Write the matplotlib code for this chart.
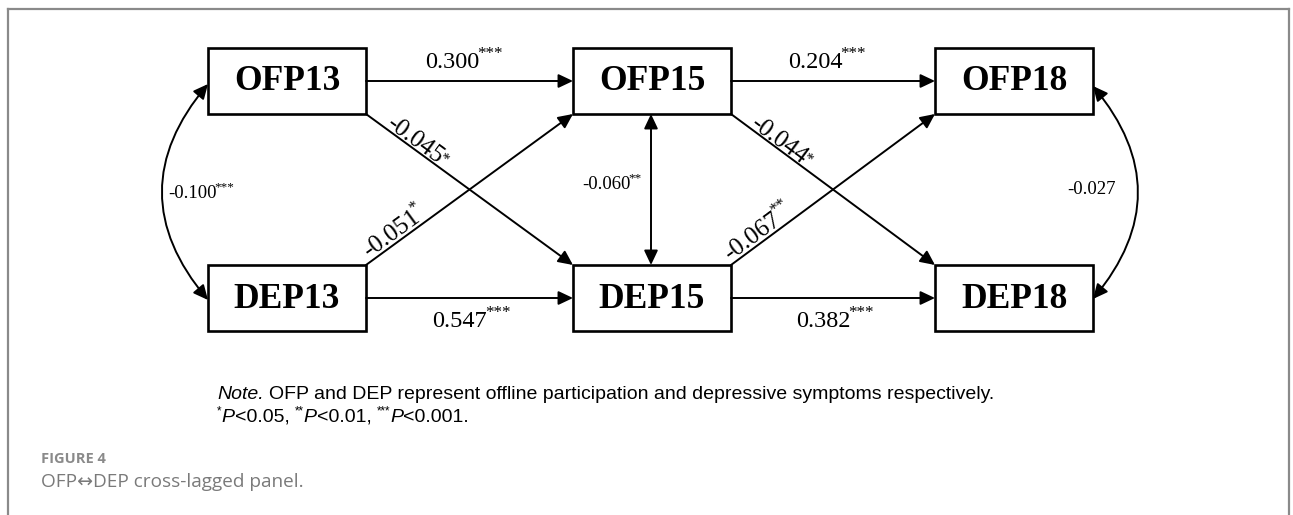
import matplotlib
matplotlib.use("Agg")
import matplotlib.pyplot as plt
from matplotlib.patches import Rectangle, FancyArrowPatch, ArrowStyle
from matplotlib.lines import Line2D
import numpy as np

# ---------------- data ----------------
ofp_nodes = ["OFP13", "OFP15", "OFP18"]
dep_nodes = ["DEP13", "DEP15", "DEP18"]
ofp_auto = ["0.300", "0.204"]
ofp_auto_sig = ["***", "***"]
dep_auto = ["0.547", "0.382"]
dep_auto_sig = ["***", "***"]
ofp_to_dep = ["-0.045", "-0.044"]
ofp_to_dep_sig = ["*", "*"]
dep_to_ofp = ["-0.051", "-0.067"]
dep_to_ofp_sig = ["*", "**"]
within_cov = ["-0.100", "-0.060", "-0.027"]
within_cov_sig = ["***", "**", ""]
note_line1 = ["Note.", "OFP and DEP represent offline participation and depressive symptoms respectively."]
note_line2 = [("*", "s"), ("P", "i"), ("<0.05, ", "n"), ("**", "s"), ("P", "i"), ("<0.01, ", "n"),
              ("***", "s"), ("P", "i"), ("<0.001.", "n")]
fig_label = "FIGURE 4"
fig_caption = "OFP\u2194DEP cross-lagged panel."

# ---------------- setup ----------------
W, H = 1293, 515
fig = plt.figure(figsize=(W / 100, H / 100), dpi=100)
ax = fig.add_axes([0, 0, 1, 1])
ax.set_xlim(0, W)
ax.set_ylim(H, 0)
ax.axis("off")
fig.canvas.draw()
renderer = fig.canvas.get_renderer()

SERIF = "Liberation Serif"
SANS = "Liberation Sans"
PX = 100 / 72  # pixels per point

# frame (open at bottom)
fc = "#8a8a8a"
ax.add_line(Line2D([7.5, 7.5], [H + 5, 9], color=fc, lw=1.6))
ax.add_line(Line2D([7.5, 1289], [9, 9], color=fc, lw=1.6))
ax.add_line(Line2D([1289, 1289], [9, H + 5], color=fc, lw=1.6))

# layout
col_x = [208, 573, 935]
row_y = [48, 265]
bw, bh = 158, 66
box_lw = 1.9
arr_lw = 1.4


def text_width(s, fs, family=SERIF):
    if not s:
        return 0.0
    t = ax.text(0, 0, s, fontsize=fs, family=family)
    w = t.get_window_extent(renderer).width
    t.remove()
    return w


def label(cx, cy, main, sup, fs, rot=0.0, sup_scale=0.7, sup_raise=0.42, family=SERIF, gap=-2.0):
    """Main text with a superscript, centred on (cx, cy), rotated by rot degrees."""
    wm = text_width(main, fs, family) + (gap if sup else 0.0)
    ws = text_width(sup, fs * sup_scale, family)
    a = np.radians(rot)
    u = np.array([np.cos(a), -np.sin(a)])
    v = np.array([-np.sin(a), -np.cos(a)])
    cap = 0.66 * fs * PX
    c = np.array([cx, cy], float)
    base = c - u * (wm + ws) / 2 - v * cap / 2
    ax.text(base[0], base[1], main, fontsize=fs, family=family, ha="left", va="baseline",
            rotation=rot, rotation_mode="anchor")
    if sup:
        sp = base + u * wm + v * sup_raise * fs * PX
        ax.text(sp[0], sp[1], sup, fontsize=fs * sup_scale, family=family, ha="left",
                va="baseline", rotation=rot, rotation_mode="anchor")


def box(col, row, name):
    x, y = col_x[col], row_y[row]
    ax.add_patch(Rectangle((x, y), bw, bh, fill=False, ec="black", lw=box_lw))
    ax.text(x + bw / 2, y + bh / 2 + 1, name, family=SERIF, weight="bold",
            fontsize=25.5, ha="center", va="center")


for i, n in enumerate(ofp_nodes):
    box(i, 0, n)
for i, n in enumerate(dep_nodes):
    box(i, 1, n)

head = ArrowStyle("-|>", head_length=0.55, head_width=0.26)
dhead = ArrowStyle("<|-|>", head_length=0.55, head_width=0.26)


def arrow(p0, p1, style=head, conn="arc3,rad=0"):
    ax.add_patch(FancyArrowPatch(p0, p1, arrowstyle=style, mutation_scale=16,
                                 lw=arr_lw, color="black", shrinkA=0, shrinkB=0,
                                 connectionstyle=conn))


def mid_y(row):
    return row_y[row] + bh / 2


lab_fs = 17.5
diag_fs = 18
cov_fs = 13.5

# autoregressive paths
for i in range(2):
    x0 = col_x[i] + bw
    x1 = col_x[i + 1]
    arrow((x0, mid_y(0)), (x1, mid_y(0)))
    arrow((x0, mid_y(1)), (x1, mid_y(1)))
    xm = (x0 + x1) / 2
    label(xm - 6, mid_y(0) - 21, ofp_auto[i], ofp_auto_sig[i], lab_fs)
    label(xm + 2, mid_y(1) + 21, dep_auto[i], dep_auto_sig[i], lab_fs)


# cross-lagged paths
def diag_label(p0, p1, main, sup, t, off, sup_raise, sup_scale):
    p0 = np.array(p0, float)
    p1 = np.array(p1, float)
    d = (p1 - p0) / np.hypot(*(p1 - p0))
    n = np.array([-d[1], d[0]])
    if n[1] > 0:
        n = -n
    c = p0 + t * (p1 - p0) + off * n
    ang = np.degrees(np.arctan2(-(p1 - p0)[1], (p1 - p0)[0]))
    label(c[0], c[1], main, sup, diag_fs, rot=ang, sup_scale=sup_scale, sup_raise=sup_raise)


top_b = row_y[0] + bh
bot_t = row_y[1]
for i in range(2):
    x0 = col_x[i] + bw
    x1 = col_x[i + 1]
    arrow((x0, top_b), (x1, bot_t))
    arrow((x0, bot_t), (x1, top_b))
    diag_label((x0, top_b), (x1, bot_t), ofp_to_dep[i], ofp_to_dep_sig[i], 0.225, 10, 0.12, 0.65)
    diag_label((x0, bot_t), (x1, top_b), dep_to_ofp[i], dep_to_ofp_sig[i], 0.165, 12, 0.42, 0.68)

# within-time covariances
xl = col_x[0]
arrow((xl, mid_y(0) + 3), (xl, mid_y(1) + 2), style=dhead, conn="arc3,rad=0.42")
label(201, 192, within_cov[0], within_cov_sig[0], cov_fs)

xc = col_x[1] + bw / 2 - 1
arrow((xc, top_b), (xc, bot_t), style=dhead)
label(612, 183, within_cov[1], within_cov_sig[1], cov_fs)

xr = col_x[2] + bw
arrow((xr, mid_y(0) + 5), (xr, mid_y(1) + 1), style=dhead, conn="arc3,rad=-0.415")
label(1092, 188, within_cov[2], within_cov_sig[2], cov_fs)

# note
note_fs = 14
note_px = note_fs * PX


def runs(x, y, items):
    for txt, st in items:
        core = txt.rstrip(" ")
        nsp = len(txt) - len(core)
        kw = dict(family=SANS, fontsize=note_fs, ha="left", va="baseline")
        yy = y
        if st == "i":
            kw["style"] = "italic"
        elif st == "s":
            kw["fontsize"] = note_fs * 0.6
            yy = y - note_px * 0.38
        t = ax.text(x, yy, core, **kw)
        w = t.get_window_extent(renderer).width
        x += w + nsp * 0.278 * note_px


runs(217, 399, [(note_line1[0], "i"), (" ", "n"), (note_line1[1], "n")])
runs(217, 422, note_line2)

# caption
ax.text(41, 459, fig_label, family=["Open Sans", "DejaVu Sans"], fontsize=10.5, weight="bold",
        color="#8a8a8a", ha="left", va="center")
ax.text(41, 482, fig_caption, family=["Open Sans", "DejaVu Sans"], fontsize=13.7,
        color="#7a7a7a", ha="left", va="center")

fig.savefig("out.png", dpi=100)
